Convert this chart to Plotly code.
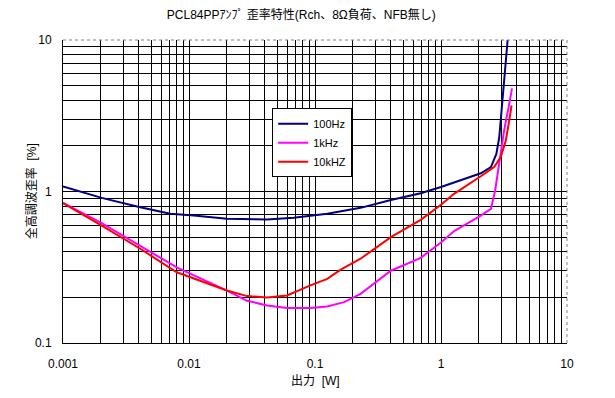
import plotly.graph_objects as go

# ---- data ----
x_100 = [0.001, 0.00203, 0.0041, 0.0071, 0.0109, 0.020, 0.0417, 0.0678, 0.125, 0.16, 0.23, 0.4, 0.69, 1.0, 1.27, 2.07, 2.49, 2.75, 2.9, 3.08, 3.27, 3.38]
y_100 = [1.08, 0.908, 0.788, 0.713, 0.694, 0.66, 0.654, 0.67, 0.713, 0.74, 0.78, 0.88, 0.975, 1.07, 1.15, 1.32, 1.45, 1.77, 2.28, 4.19, 7.3, 10.0]

x_1k = [0.001, 0.00203, 0.0041, 0.008, 0.020, 0.0289, 0.0417, 0.060, 0.092, 0.125, 0.17, 0.23, 0.4, 0.69, 1.0, 1.27, 2.07, 2.49, 2.69, 2.9, 3.17, 3.48, 3.66]
y_1k = [0.84, 0.618, 0.437, 0.316, 0.222, 0.19, 0.177, 0.17, 0.17, 0.174, 0.186, 0.211, 0.30, 0.365, 0.46, 0.548, 0.694, 0.768, 1.015, 1.6, 2.53, 3.79, 4.79]

x_10k = [0.001, 0.00203, 0.0041, 0.008, 0.020, 0.0289, 0.0417, 0.060, 0.092, 0.125, 0.16, 0.23, 0.4, 0.69, 1.0, 1.27, 2.07, 2.64, 2.98, 3.27, 3.48, 3.63]
y_10k = [0.837, 0.596, 0.419, 0.293, 0.222, 0.204, 0.20, 0.206, 0.24, 0.265, 0.305, 0.36, 0.50, 0.65, 0.817, 0.965, 1.26, 1.45, 1.69, 2.17, 2.94, 3.7]

series_names = ["100Hz", "1kHz", "10kHZ"]
series_colors = ["#000080", "#FF00FF", "#FF0000"]

x_tickvals = [0.001, 0.01, 0.1, 1, 10]
x_ticktext = ["0.001", "0.01", "0.1", "1", "10"]
y_tickvals = [0.1, 1, 10]
y_ticktext = ["0.1", "1", "10"]

# minor grid positions: 2..9 within each decade
x_minor = [m * d for d in [0.001, 0.01, 0.1, 1] for m in range(2, 10)]
y_minor = [m * d for d in [0.1, 1] for m in range(2, 10)]

title_text = "PCL84PPｱﾝﾌﾟ 歪率特性(Rch、8Ω負荷、NFB無し)"
x_title = "出力  [W]"
y_title = "全高調波歪率  [%]"

FONT = "Liberation Sans, Arial, Noto Sans CJK JP, sans-serif"

fig = go.Figure()
for xs, ys, name, col in zip([x_100, x_1k, x_10k], [y_100, y_1k, y_10k], series_names, series_colors):
    fig.add_trace(go.Scatter(x=xs, y=ys, mode="lines", name=name,
                             line=dict(color=col, width=2), hoverinfo="x+y"))

axis_common = dict(
    type="log",
    showgrid=True, gridcolor="black", gridwidth=1,
    showline=True, linecolor="black", linewidth=1,
    zeroline=False, ticks="", automargin=False,
    tickfont=dict(family=FONT, size=12, color="black"),
)

fig.update_xaxes(**axis_common, range=[-3, 1], tickmode="array",
                 tickvals=x_tickvals, ticktext=x_ticktext,
                 minor=dict(tickmode="array", tickvals=x_minor, showgrid=True,
                            gridcolor="black", gridwidth=1, ticks=""),
                 ticklabelstandoff=10)
fig.update_yaxes(**axis_common, range=[-1, 1], tickmode="array",
                 tickvals=y_tickvals, ticktext=y_ticktext,
                 minor=dict(tickmode="array", tickvals=y_minor, showgrid=True,
                            gridcolor="black", gridwidth=1, ticks=""),
                 ticklabelstandoff=8)

# dotted gray frame on top and right
fig.add_shape(type="line", xref="paper", yref="paper", x0=0, x1=1, y0=1, y1=1,
              line=dict(color="#808080", width=1, dash="dot"))
fig.add_shape(type="line", xref="paper", yref="paper", x0=1, x1=1, y0=0, y1=1,
              line=dict(color="#808080", width=1, dash="dot"))

# axis titles as annotations
fig.add_annotation(text=y_title, xref="paper", yref="paper", x=-0.062, y=0.50,
                   xanchor="center", yanchor="middle", textangle=-90, showarrow=False,
                   font=dict(family=FONT, size=12, color="black"))
fig.add_annotation(text=x_title, xref="paper", yref="paper", x=0.5, y=-0.125,
                   xanchor="center", yanchor="middle", showarrow=False,
                   font=dict(family=FONT, size=12, color="black"))

fig.update_layout(
    width=615, height=398,
    margin=dict(l=63, r=48, t=40, b=55, autoexpand=False),
    paper_bgcolor="white", plot_bgcolor="white",
    title=dict(text=title_text, x=0.49, xanchor="center", y=0.962, yanchor="middle",
               font=dict(family=FONT, size=12, color="black")),
    showlegend=True,
    legend=dict(x=0.415, y=0.775, xanchor="left", yanchor="top",
                bgcolor="white", bordercolor="black", borderwidth=1,
                font=dict(family=FONT, size=11, color="black"),
                tracegroupgap=0, itemwidth=30),
    font=dict(family=FONT),
)

fig.write_html("out.html", config={"displayModeBar": False},
               post_script="document.body.style.margin='0';")
